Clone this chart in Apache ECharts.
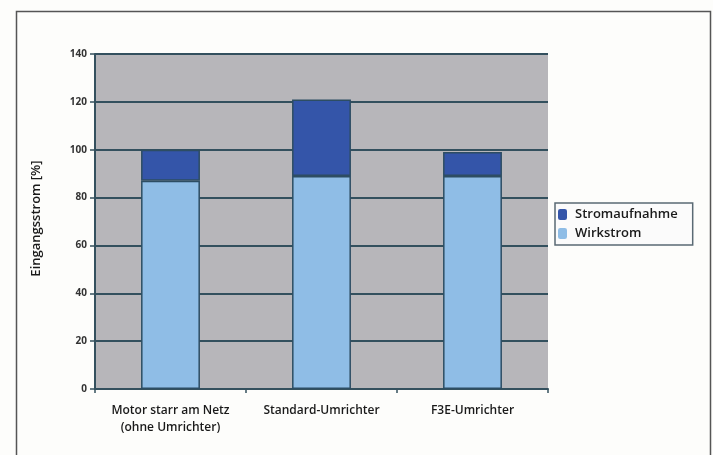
<!DOCTYPE html>
<html><head><meta charset="utf-8">
<script src="https://cdn.jsdelivr.net/npm/echarts@6/dist/echarts.min.js"></script>
<style>html,body{margin:0;padding:0;background:#fdfdfb}#c{width:713px;height:455px}</style>
</head><body><div id="c"></div>
<script>
const categories = ['Motor starr am Netz\n(ohne Umrichter)', 'Standard-Umrichter', 'F3E-Umrichter'];
const wirkstrom = [87, 89, 89];
const stromaufnahme = [13, 32, 10];
const yTicks = [0, 20, 40, 60, 80, 100, 120, 140];

const chart = echarts.init(document.getElementById('c'));
chart.setOption({
  backgroundColor: '#fdfdfb',
  animation: false,
  graphic: [{
    type: 'rect', left: 14, top: 9,
    shape: { width: 694, height: 460 },
    style: { fill: 'none', stroke: '#555', lineWidth: 1.5 }, silent: true
  }],
  grid: { left: 95, right: 165, top: 54, bottom: 66, show: true, backgroundColor: '#b7b6ba', borderWidth: 0 },
  legend: {
    orient: 'vertical', left: 555, top: 203,
    data: ['Stromaufnahme', 'Wirkstrom'],
    itemWidth: 9, itemHeight: 11, itemGap: 6,
    padding: [5, 15, 5, 3],
    backgroundColor: '#fbfbfb', borderColor: '#5a6a74', borderWidth: 1.5,
    itemStyle: { borderWidth: 0 },
    textStyle: { fontFamily: 'Open Sans', fontWeight: 600, fontSize: 13, color: '#1a1a1a', padding: [0, 0, 0, 3] }
  },
  xAxis: {
    type: 'category', data: categories,
    axisLine: { lineStyle: { color: '#34505e', width: 2 } },
    axisTick: { show: true, length: 4, lineStyle: { color: '#34505e', width: 1.5 } },
    axisLabel: { interval: 0, fontFamily: 'Open Sans', fontWeight: 600, fontSize: 12, color: '#1a1a1a', lineHeight: 17, margin: 13 }
  },
  yAxis: {
    type: 'value', min: 0, max: 140, interval: 20,
    name: 'Eingangsstrom [%]', nameLocation: 'middle', nameGap: 52,
    nameTextStyle: { fontFamily: 'Open Sans', fontWeight: 600, fontSize: 13, color: '#1a1a1a', padding: [0, 0, 0, 6] },
    axisLine: { show: true, lineStyle: { color: '#34505e', width: 2 } },
    axisTick: { show: true, length: 5, lineStyle: { color: '#34505e', width: 1.5 } },
    axisLabel: { fontFamily: 'Open Sans', fontWeight: 700, fontSize: 10, color: '#333', margin: 8,
      formatter: v => yTicks.includes(v) ? String(v) : '' },
    splitLine: { show: true, lineStyle: { color: '#33505e', width: 2 } }
  },
  series: [
    { name: 'Wirkstrom', type: 'bar', stack: 'a', data: wirkstrom, barWidth: '39%',
      itemStyle: { color: '#8fbde6', borderColor: '#2d4d63', borderWidth: 1.5 } },
    { name: 'Stromaufnahme', type: 'bar', stack: 'a', data: stromaufnahme, barWidth: '39%',
      itemStyle: { color: '#3455a9', borderColor: '#2d4d63', borderWidth: 1.5 } }
  ]
});
</script></body></html>
